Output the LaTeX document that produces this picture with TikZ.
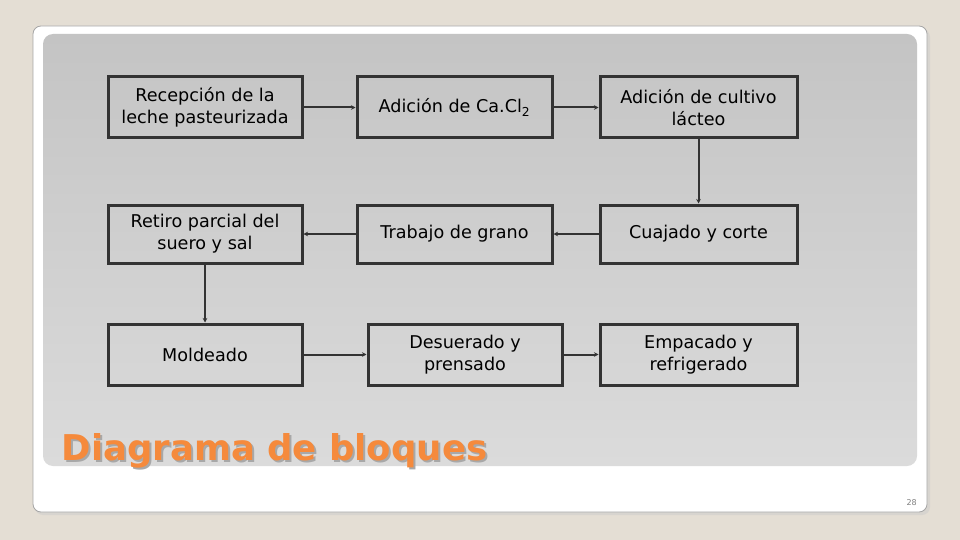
\documentclass[tikz,border=0pt]{standalone}
\usepackage{fontspec}
\setmainfont{DejaVu Sans}
\usetikzlibrary{arrows.meta,shadows}
\definecolor{bgbeige}{HTML}{E4DED4}
\definecolor{panelTop}{HTML}{C4C4C4}
\definecolor{panelBot}{HTML}{DBDBDB}
\definecolor{boxline}{HTML}{333333}
\definecolor{titleorange}{HTML}{F58A3C}
\definecolor{titleshadow}{HTML}{A8A8A8}
\begin{document}
\begin{tikzpicture}[x=1pt,y=-1pt,
  stepbox/.style={draw=boxline,line width=3pt,inner sep=0pt,align=center,
    font=\fontsize{17.6}{22}\selectfont,text=black},
  conn/.style={draw=boxline,line width=2pt,-{Stealth[length=4.5pt,width=4.5pt]}}]
\useasboundingbox (0,0) rectangle (960,540);
\fill[bgbeige] (0,0) rectangle (960,540);
\fill[gray!40,opacity=0.5,rounded corners=8pt] (35,29) rectangle (930,515);
\draw[fill=white,draw=gray!70,line width=0.8pt,rounded corners=8pt] (33,26) rectangle (927,512);
\shade[top color=panelTop,bottom color=panelBot,rounded corners=10pt] (43,34) rectangle (917,466);
% boxes
\node[stepbox,minimum width=194pt,minimum height=61pt] (rec) at (205,107.5) {Recepción de la\\leche pasteurizada};
\node[stepbox,minimum width=195pt,minimum height=61pt] (cacl) at (454.5,107.5) {Adición de Ca.Cl\textsubscript{2}};
\node[stepbox,minimum width=197pt,minimum height=61pt] (cult) at (698.5,107.5) {Adición de cultivo\\lácteo};
\node[stepbox,minimum width=194pt,minimum height=58pt] (ret) at (205,234) {Retiro parcial del\\suero y sal};
\node[stepbox,minimum width=195pt,minimum height=58pt] (trab) at (454.5,234) {Trabajo de grano};
\node[stepbox,minimum width=197pt,minimum height=58pt] (cuaj) at (698.5,234) {Cuajado y corte};
\node[stepbox,minimum width=194pt,minimum height=61pt] (mold) at (205,354.5) {Moldeado};
\node[stepbox,minimum width=194pt,minimum height=61pt] (des) at (465,354.5) {Desuerado y\\prensado};
\node[stepbox,minimum width=197pt,minimum height=61pt] (emp) at (698.5,354.5) {Empacado y\\refrigerado};
% connectors
\draw[conn] (rec) -- (cacl);
\draw[conn] (cacl) -- (cult);
\draw[conn] (cult) -- (cuaj);
\draw[conn] (cuaj) -- (trab);
\draw[conn] (trab) -- (ret);
\draw[conn] (ret) -- (mold);
\draw[conn] (mold) -- (des);
\draw[conn] (des) -- (emp);
% title with shadow (single node)
\node[anchor=base west,inner sep=0pt,font=\bfseries\fontsize{35.5}{40}\selectfont] (title) at (61.5,460)
  {\rlap{\kern2pt\raisebox{-2pt}{\textcolor{titleshadow}{Diagrama de bloques}}}\textcolor{titleorange}{Diagrama de bloques}};
\node[anchor=base east,inner sep=0pt,text=gray,font=\fontsize{8}{10}\selectfont] (pg) at (917,505) {28};
\end{tikzpicture}
\end{document}
